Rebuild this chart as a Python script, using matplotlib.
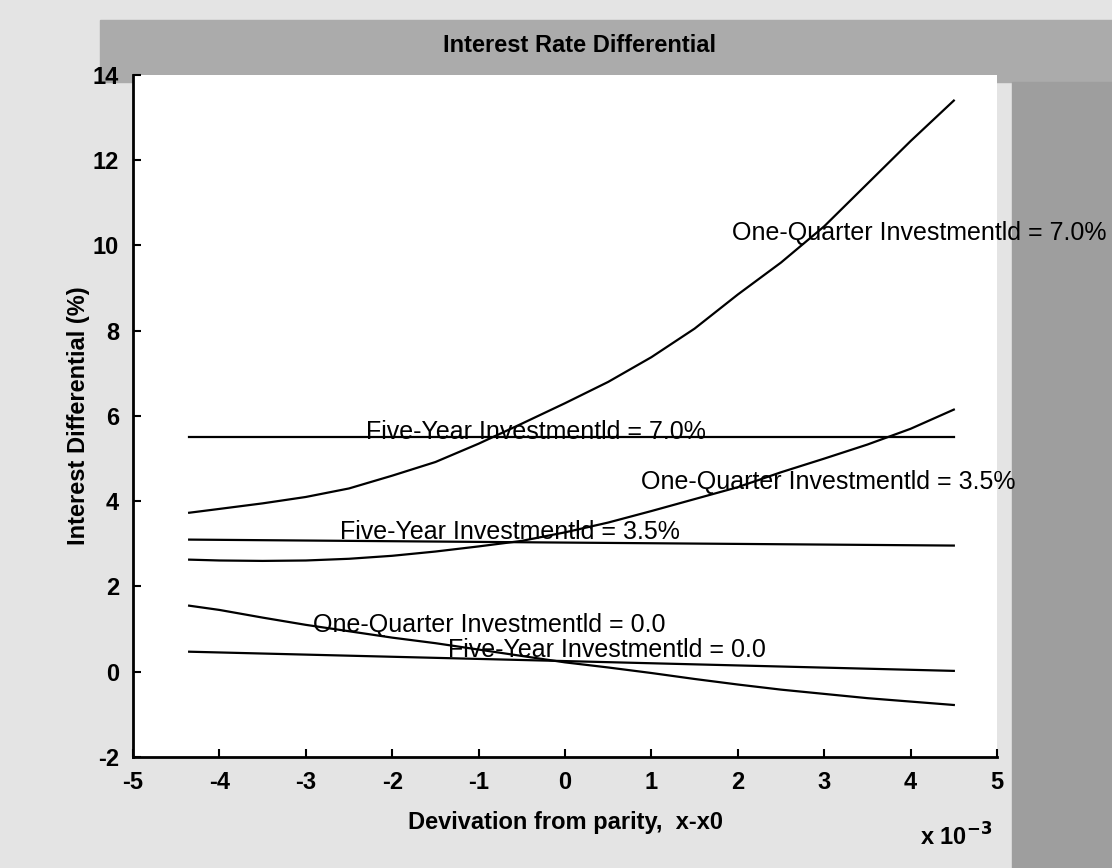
import matplotlib
matplotlib.use("Agg")
import matplotlib.pyplot as plt
from matplotlib.patches import Rectangle

# deviation from parity (x 10^-3)
five_year_x = [-4.35, 0.0, 4.5]
five_year_70 = [5.5, 5.5, 5.5]
five_year_35 = [3.1, 3.03, 2.96]
five_year_00 = [0.47, 0.25, 0.02]

one_q_x = [-4.35, -4.0, -3.5, -3.0, -2.5, -2.0, -1.5, -1.0, -0.5, 0.0,
           0.5, 1.0, 1.5, 2.0, 2.5, 3.0, 3.5, 4.0, 4.5]
one_q_70 = [3.73, 3.82, 3.95, 4.1, 4.3, 4.6, 4.92, 5.35, 5.82, 6.3,
            6.8, 7.38, 8.05, 8.85, 9.6, 10.45, 11.45, 12.45, 13.4]
one_q_35 = [2.63, 2.61, 2.6, 2.61, 2.65, 2.72, 2.82, 2.94, 3.07, 3.27,
            3.5, 3.77, 4.05, 4.33, 4.68, 5.0, 5.33, 5.7, 6.15]
one_q_00 = [1.55, 1.45, 1.27, 1.1, 0.95, 0.8, 0.67, 0.52, 0.37, 0.22,
            0.1, -0.03, -0.17, -0.3, -0.42, -0.52, -0.62, -0.7, -0.78]

labels = [
    ("Five-Year Investmentld = 7.0%", -2.3, 5.62),
    ("Five-Year Investmentld = 3.5%", -2.6, 3.29),
    ("One-Quarter Investmentld = 0.0", -2.92, 1.1),
    ("Five-Year Investmentld = 0.0", -1.35, 0.52),
    ("One-Quarter Investmentld = 3.5%", 0.88, 4.44),
    ("One-Quarter Investmentld = 7.0%", 1.93, 10.3),
]

plt.rcParams["font.family"] = ["Liberation Sans", "DejaVu Sans"]

fig = plt.figure(figsize=(11.12, 8.68), dpi=100)
fig.patch.set_facecolor("#e4e4e4")
# scanned-page shading around the plot
fig.patches.append(Rectangle((100 / 1112, 1 - 82 / 868), 1012 / 1112, 62 / 868,
                             transform=fig.transFigure, color="#ababab", zorder=-10))
fig.patches.append(Rectangle((1012 / 1112, 0.0), 100 / 1112, 1 - 82 / 868,
                             transform=fig.transFigure, color="#9e9e9e", zorder=-10))

ax = fig.add_axes([0.1196, 0.1279, 0.777, 0.7857])
ax.set_facecolor("white")

lw = 1.6
ax.plot(five_year_x, five_year_70, color="black", lw=lw)
ax.plot(five_year_x, five_year_35, color="black", lw=lw)
ax.plot(five_year_x, five_year_00, color="black", lw=lw)
ax.plot(one_q_x, one_q_70, color="black", lw=lw)
ax.plot(one_q_x, one_q_35, color="black", lw=lw)
ax.plot(one_q_x, one_q_00, color="black", lw=lw)

for txt, tx, ty in labels:
    ax.text(tx, ty, txt, fontsize=18, va="center", ha="left", clip_on=False)

ax.set_xlim(-5, 5)
ax.set_ylim(-2, 14)
ax.set_xticks(range(-5, 6))
ax.set_yticks(range(-2, 15, 2))
ax.set_xticklabels([str(v) for v in range(-5, 6)], fontsize=17, fontweight="bold")
ax.set_yticklabels([str(v) for v in range(-2, 15, 2)], fontsize=17, fontweight="bold")
ax.tick_params(direction="in", length=6, width=1.5, pad=10)

for side in ["top", "right"]:
    ax.spines[side].set_visible(False)
for side in ["left", "bottom"]:
    ax.spines[side].set_linewidth(2)

ax.set_xlabel("Devivation from parity,  x-x0", fontsize=17, fontweight="bold", labelpad=12)
ax.set_ylabel("Interest Differential (%)", fontsize=17, fontweight="bold", labelpad=2)
fig.text(0.521, 1 - 46 / 868, "Interest Rate Differential", fontsize=17,
         fontweight="bold", ha="center", va="center")
fig.text(0.86, 1 - 837 / 868, r"x 10$^{\mathbf{-3}}$", fontsize=17,
         fontweight="bold", ha="center", va="center")

fig.savefig("out.png", dpi=100, facecolor=fig.get_facecolor())
